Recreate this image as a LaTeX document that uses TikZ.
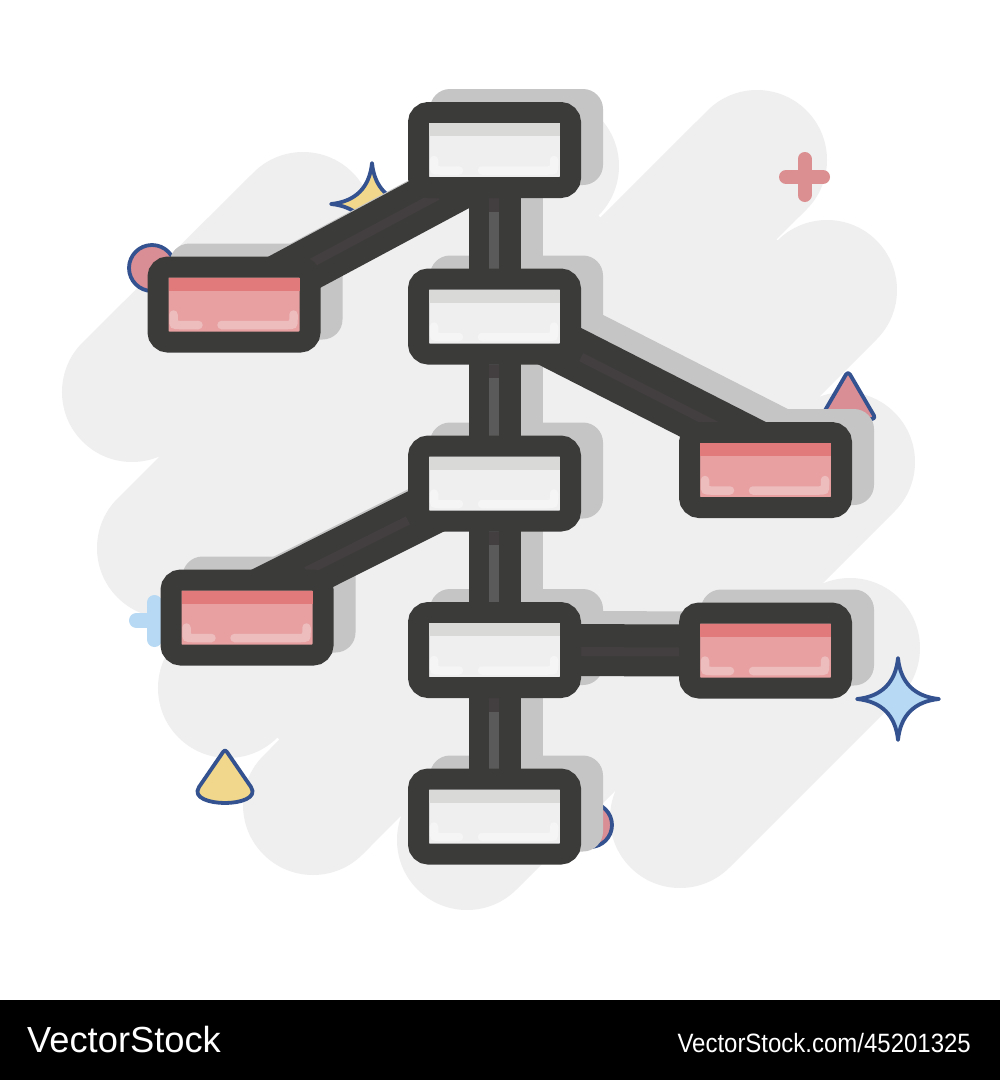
\documentclass[tikz,border=0pt]{standalone}
\usepackage{fontspec}
\setmainfont{Liberation Sans}
\usepackage{graphicx}
\usetikzlibrary{calc}
\pgfdeclarelayer{cloud}
\pgfdeclarelayer{deco}
\pgfdeclarelayer{shadow}
\pgfdeclarelayer{links}
\pgfsetlayers{cloud,deco,shadow,links,main}

\definecolor{ink}{HTML}{3B3C3A}
\definecolor{shadowc}{HTML}{C5C5C5}
\definecolor{cloudc}{HTML}{EFEFEF}
\definecolor{winner}{HTML}{EFEFEF}
\definecolor{wband}{HTML}{D9D9D8}
\definecolor{whi}{HTML}{F5F5F5}
\definecolor{pinner}{HTML}{E8A0A1}
\definecolor{pband}{HTML}{E07A7B}
\definecolor{phi}{HTML}{EDBDBE}
\definecolor{stripe}{HTML}{5A5A5A}
\definecolor{stripedk}{HTML}{433E3F}
\definecolor{decopink}{HTML}{D98D95}
\definecolor{decoblue}{HTML}{34528F}
\definecolor{decoyellow}{HTML}{F0D78B}
\definecolor{lightblue}{HTML}{B7D9F3}
\definecolor{crosspink}{HTML}{DC8F90}

\tikzset{
  box/.style={rectangle, rounded corners=10pt, draw=ink, line width=21pt,
    minimum width=152pt, minimum height=75pt, inner sep=0pt, outer sep=0pt},
  wbox/.style={box, fill=winner},
  pbox/.style={box, fill=pinner},
  link/.style={draw=ink, line width=52pt},
  linkshadow/.style={draw=shadowc, line width=52pt},
  linkstripe/.style={draw=stripedk, line width=9pt},
  decoline/.style={draw=decoblue, line width=3.8pt, line join=round},
  hil/.style={line width=8.5pt, line cap=round}
}

\newcommand{\boxdeco}[3]{%
  \fill[#2] ($(#1.north west)+(10.5,10.5)$) rectangle ($(#1.north east)+(-10.5,23.5)$);
  \draw[#3, hil] ($(#1.south west)+(15.5,-27.5)$) -- ($(#1.south west)+(15.5,-22.5)$)
     .. controls ($(#1.south west)+(15.5,-17)$) and ($(#1.south west)+(15.5,-17)$) .. ($(#1.south west)+(21.5,-17)$)
     -- ($(#1.south west)+(40.5,-17)$);
  \draw[#3, hil] ($(#1.south west)+(63.5,-17)$) -- ($(#1.south east)+(-22.5,-17)$)
     .. controls ($(#1.south east)+(-16.5,-17)$) and ($(#1.south east)+(-16.5,-17)$) .. ($(#1.south east)+(-16.5,-22.5)$)
     -- ($(#1.south east)+(-16.5,-27.5)$);
}
\newcommand{\boxshadow}[1]{%
  \fill[shadowc, rounded corners=20pt] ($(#1.north west)+(11.5,-23.5)$) rectangle ($(#1.south east)+(32.5,-2.5)$);
}
\newcommand{\mysparkle}[3]{% center, arm, fill
  \draw[decoline, fill=#3] ($(#1)+(0,-#2)$)
    .. controls ($(#1)+(0.06*#2,-0.4*#2)$) and ($(#1)+(0.4*#2,-0.06*#2)$) .. ($(#1)+(#2,0)$)
    .. controls ($(#1)+(0.4*#2,0.06*#2)$) and ($(#1)+(0.06*#2,0.4*#2)$) .. ($(#1)+(0,#2)$)
    .. controls ($(#1)+(-0.06*#2,0.4*#2)$) and ($(#1)+(-0.4*#2,0.06*#2)$) .. ($(#1)+(-#2,0)$)
    .. controls ($(#1)+(-0.4*#2,-0.06*#2)$) and ($(#1)+(-0.06*#2,-0.4*#2)$) .. cycle;
}
% 45-degree capsule (radius 70) from lower-left centre #1 to upper-right centre #2
\newcommand{\capsule}[2]{%
  ($(#1)+(49.5,49.5)$) -- ($(#2)+(49.5,49.5)$) arc[start angle=45, end angle=-135, radius=70]
  -- ($(#1)+(-49.5,-49.5)$) arc[start angle=225, end angle=45, radius=70] -- cycle
}

\begin{document}
\begin{tikzpicture}[x=1pt, y=-1pt]
\useasboundingbox (0,0) rectangle (1000,1080);

% ---------- boxes (main layer) ----------
\node[wbox] (B1) at (494.5,150) {};
\node[wbox] (B2) at (494.5,316.5) {};
\node[wbox] (B3) at (494.5,483.5) {};
\node[wbox] (B4) at (494.5,650) {};
\node[wbox] (B5) at (494.5,816.5) {};
\node[pbox] (P1) at (234,304.5) {};
\node[pbox] (P2) at (765.5,470) {};
\node[pbox] (P3) at (247,617.5) {};
\node[pbox] (P4) at (765.5,650.5) {};

\foreach \n in {B1,B2,B3,B4,B5} {\boxdeco{\n}{wband}{whi}}
\foreach \n in {P1,P2,P3,P4} {\boxdeco{\n}{pband}{phi}}

% ---------- background ----------
\begin{pgfonlayer}{cloud}
  \fill[white] (0,0) rectangle (1000,1000);
  \fill[black] (0,1000) rectangle (1000,1080);
  \fill[cloudc]
     \capsule{132,392}{303,222}
     \capsule{167,548}{549,166}
     \capsule{228,688}{757,160}
     \capsule{313,805}{827,290}
     \capsule{467,840}{845,462}
     \capsule{680,818}{850,648}
     (221.5,602.5) -- (603.5,220.5) -- (595.5,212.5) -- (213.5,594.5) -- cycle
     (284,744) -- (782.5,245.5) -- (772.5,235.5) -- (274,734) -- cycle;
\end{pgfonlayer}

% ---------- decorations ----------
\begin{pgfonlayer}{deco}
  \draw[decoline, fill=decopink] (152,268) circle[radius=23pt];
  \mysparkle{372,204}{41}{decoyellow}
  \draw[decoline, fill=decopink, rounded corners=4pt] (848,371) -- (876,419) -- (820,419) -- cycle;
  \draw[decoline, fill=decopink] (590,825) circle[radius=22pt];
  \draw[lightblue, line width=15pt, line cap=round] (136.5,620.5) -- (172,620.5);
  \draw[lightblue, line width=15pt, line cap=round] (154.5,602.5) -- (154.5,639.5);
  \draw[crosspink, line width=14pt, line cap=round] (786,177) -- (823,177);
  \draw[crosspink, line width=14pt, line cap=round] (804.5,159) -- (804.5,195);
  \mysparkle{898,699}{41}{lightblue}
  \draw[decoline, fill=decoyellow] (221,755) .. controls (225,749) and (225,749) .. (229,755)
     -- (251,787) .. controls (258,798) and (240,803) .. (225,803)
     .. controls (210,803) and (192,798) .. (199,787) -- cycle;
\end{pgfonlayer}

% ---------- shadows ----------
\begin{pgfonlayer}{shadow}
  \draw[linkshadow] ($(B1.center)+(22,-13)$) -- ($(B5.center)+(22,-13)$);
  \draw[linkshadow] ($(P1.center)+(22,-13)$) -- ($(B1.center)+(22,2)$);
  \draw[linkshadow] ($(B2.center)+(22,-16.5)$) -- ($(P2.center)+(22,-32)$);
  \draw[linkshadow] ($(B3.center)+(22,-19.5)$) -- ($(P3.center)+(22,-29.5)$);
  \draw[linkshadow] ($(B4.center)+(22,-13)$) -- ($(P4.center)+(22,-13)$);
  \foreach \n in {B1,B2,B3,B4,B5,P1,P2,P3,P4} {\boxshadow{\n}}
\end{pgfonlayer}

% ---------- connectors ----------
\begin{pgfonlayer}{links}
  \draw[link] (B1.center) -- (B5.center);
  \draw[link] (P1.center) -- ($(B1.center)+(0,15)$);
  \draw[link] ($(B2.center)+(0,-3.5)$) -- ($(P2.center)+(0,-19)$);
  \draw[link] ($(B3.center)+(0,-6.5)$) -- ($(P3.center)+(0,-16.5)$);
  \draw[link] (B4.center) -- (P4.center);
  % highlight stripes
  \draw[stripe, line width=10pt] ($(B1.center)+(-0.5,0)$) -- ($(B5.center)+(-0.5,0)$);
  \foreach \n in {B1,B2,B3,B4} {\draw[stripedk, line width=10pt] ($(\n.south)+(-0.5,10.5)$) -- ($(\n.south)+(-0.5,24)$);}
  \draw[linkstripe] ($(P1.center)!0.30!($(B1.center)+(0,15)$)$) -- ($(P1.center)!0.78!($(B1.center)+(0,15)$)$);
  \draw[linkstripe] ($($(B2.center)+(0,-3.5)$)!0.32!($(P2.center)+(0,-19)$)$) -- ($($(B2.center)+(0,-3.5)$)!0.83!($(P2.center)+(0,-19)$)$);
  \draw[linkstripe] ($($(B3.center)+(0,-6.5)$)!0.35!($(P3.center)+(0,-16.5)$)$) -- ($($(B3.center)+(0,-6.5)$)!0.76!($(P3.center)+(0,-16.5)$)$);
  \draw[linkstripe] ($(B4.center)!0.32!(P4.center)+(0,1.5)$) -- ($(B4.center)!0.68!(P4.center)+(0,1.5)$);
\end{pgfonlayer}

% ---------- footer text ----------
\node[anchor=base west, text=white, inner sep=0pt] (brand) at (27,1052)
  {\fontsize{36.3}{40}\selectfont VectorStock};
\node[anchor=base east, text=white, inner sep=0pt] (ref) at (971,1052)
  {\scalebox{0.905}[1]{\fontsize{26.5}{30}\selectfont VectorStock.com/45201325}};
\end{tikzpicture}
\end{document}
